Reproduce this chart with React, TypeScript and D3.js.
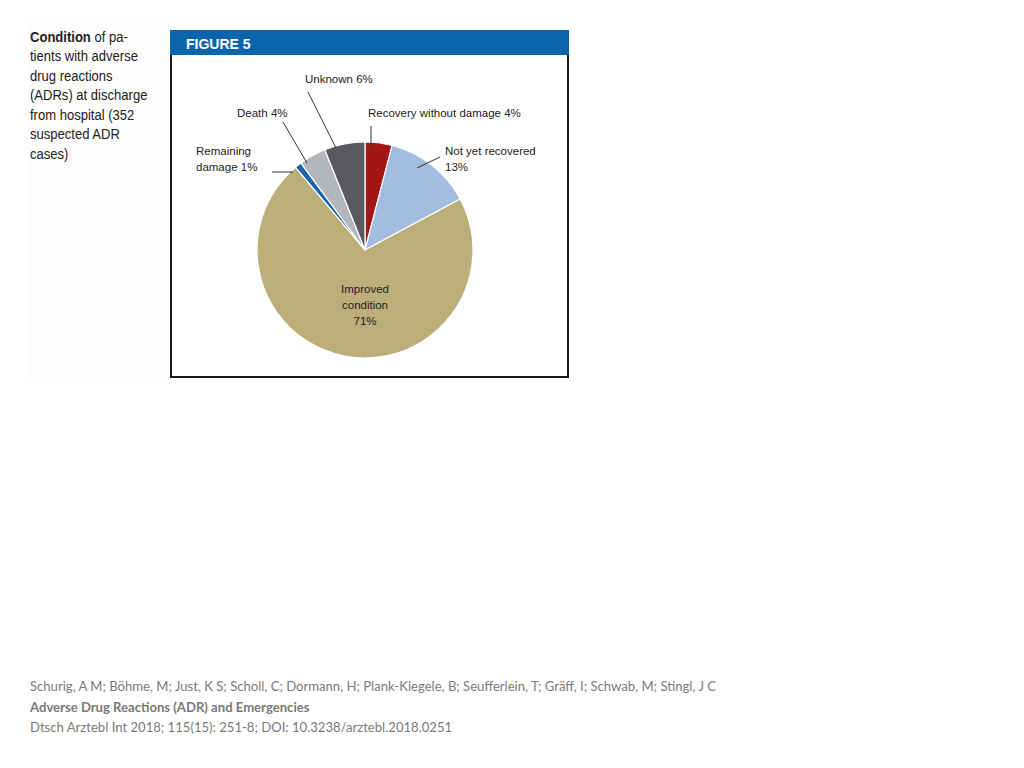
import React, { useEffect, useRef } from "react";
import * as d3 from "d3";

interface Slice {
  name: string;
  value: number;
}

// clockwise from 12 o'clock
const categories = [
  "Recovery without damage",
  "Not yet recovered",
  "Improved condition",
  "Remaining damage",
  "Death",
  "Unknown",
];
const values = [4, 13, 71, 1, 4, 6];
const colors = ["#a51717", "#a3bde0", "#bbae79", "#1c63ad", "#b3b7bb", "#59595e"];

const titleLines = [
  "tients with adverse",
  "drug reactions",
  "(ADRs) at discharge",
  "from hospital (352",
  "suspected ADR",
  "cases)",
];

const footerLines = [
  "Schurig, A M; Böhme, M; Just, K S; Scholl, C; Dormann, H; Plank-Kiegele, B; Seufferlein, T; Gräff, I; Schwab, M; Stingl, J C",
  "Adverse Drug Reactions (ADR) and Emergencies",
  "Dtsch Arztebl Int 2018; 115(15): 251-8; DOI: 10.3238/arztebl.2018.0251",
];

// label text + leader line ends (relative to pie centre)
const labels = [
  { lines: ["Recovery without damage 4%"], x: 3, y: -133, anchor: "start", line: [[6, -124], [6, -102]] },
  { lines: ["Not yet recovered", "13%"], x: 80, y: -95, anchor: "start", line: [[75, -93], [52, -82]] },
  { lines: ["Remaining", "damage 1%"], x: -169, y: -95, anchor: "start", line: [[-93, -78], [-72, -78]] },
  { lines: ["Death 4%"], x: -128, y: -133, anchor: "start", line: [[-82, -128], [-58, -87]] },
  { lines: ["Unknown 6%"], x: -60, y: -167, anchor: "start", line: [[-57, -158], [-29, -102]] },
];

const App: React.FC = () => {
  const svgRef = useRef<SVGSVGElement>(null);

  useEffect(() => {
    if (!svgRef.current) return;
    const svg = d3.select(svgRef.current);
    svg.selectAll("*").remove();

    const data: Slice[] = categories.map((c, i) => ({ name: c, value: values[i] }));

    // left caption background
    svg.append("rect").attr("x", 28).attr("y", 20).attr("width", 143).attr("height", 360).attr("fill", "#fdfdfb");

    // caption, slightly condensed like the original
    const capG = svg.append("g").attr("transform", "translate(30,0) scale(0.9,1)");
    const cap = capG.append("text")
      .attr("x", 0).attr("y", 42)
      .attr("font-family", "Liberation Sans, Arial, sans-serif")
      .attr("font-size", 14.5)
      .attr("fill", "#222");
    cap.append("tspan").attr("font-weight", "bold").text("Condition");
    cap.append("tspan").text(" of pa-");
    titleLines.forEach((t, i) => {
      capG.append("text")
        .attr("x", 0).attr("y", 61.5 + i * 19.5)
        .attr("font-family", "Liberation Sans, Arial, sans-serif")
        .attr("font-size", 14.5)
        .attr("fill", "#222")
        .text(t);
    });

    // figure frame
    svg.append("rect").attr("x", 171).attr("y", 31).attr("width", 397).attr("height", 346)
      .attr("fill", "#fff").attr("stroke", "#1a1a1a").attr("stroke-width", 2);
    svg.append("rect").attr("x", 170).attr("y", 30).attr("width", 399).attr("height", 25).attr("fill", "#0b65ad");
    svg.append("text").attr("x", 186).attr("y", 49)
      .attr("font-family", "Liberation Sans, Arial, sans-serif")
      .attr("font-size", 14).attr("font-weight", "bold").attr("fill", "#fff")
      .text("FIGURE 5");

    // pie
    const cx = 365, cy = 250, r = 108;
    const pie = d3.pie<Slice>().sort(null).value((d) => d.value);
    const arc = d3.arc<d3.PieArcDatum<Slice>>().innerRadius(0).outerRadius(r);
    const g = svg.append("g").attr("transform", `translate(${cx},${cy})`);
    g.selectAll("path")
      .data(pie(data))
      .enter()
      .append("path")
      .attr("d", arc)
      .attr("fill", (_d, i) => colors[i])
      .attr("stroke", "#fff")
      .attr("stroke-width", 1.2);

    // leader lines and labels
    labels.forEach((l) => {
      g.append("line")
        .attr("x1", l.line[0][0]).attr("y1", l.line[0][1])
        .attr("x2", l.line[1][0]).attr("y2", l.line[1][1])
        .attr("stroke", "#333").attr("stroke-width", 1);
      l.lines.forEach((t, i) => {
        g.append("text")
          .attr("x", l.x).attr("y", l.y + i * 16)
          .attr("text-anchor", l.anchor)
          .attr("font-family", "Liberation Sans, Arial, sans-serif")
          .attr("font-size", 11.5).attr("fill", "#222")
          .text(t);
      });
    });
    ["Improved", "condition", "71%"].forEach((t, i) => {
      g.append("text")
        .attr("x", 0).attr("y", 43 + i * 16)
        .attr("text-anchor", "middle")
        .attr("font-family", "Liberation Sans, Arial, sans-serif")
        .attr("font-size", 11.5).attr("fill", "#222")
        .text(t);
    });

    // footer
    footerLines.forEach((t, i) => {
      svg.append("text")
        .attr("x", 30).attr("y", 691 + i * 20.5)
        .attr("font-family", "Lato, Open Sans, sans-serif")
        .attr("font-size", 13.1)
        .attr("font-weight", i === 1 ? "bold" : "normal")
        .attr("fill", "#7a7a7a")
        .text(t);
    });
  }, []);

  return (
    <svg
      ref={svgRef}
      width={1024}
      height={768}
      style={{ position: "absolute", left: 0, top: 0, background: "#fff" }}
    ></svg>
  );
};

export default App;
